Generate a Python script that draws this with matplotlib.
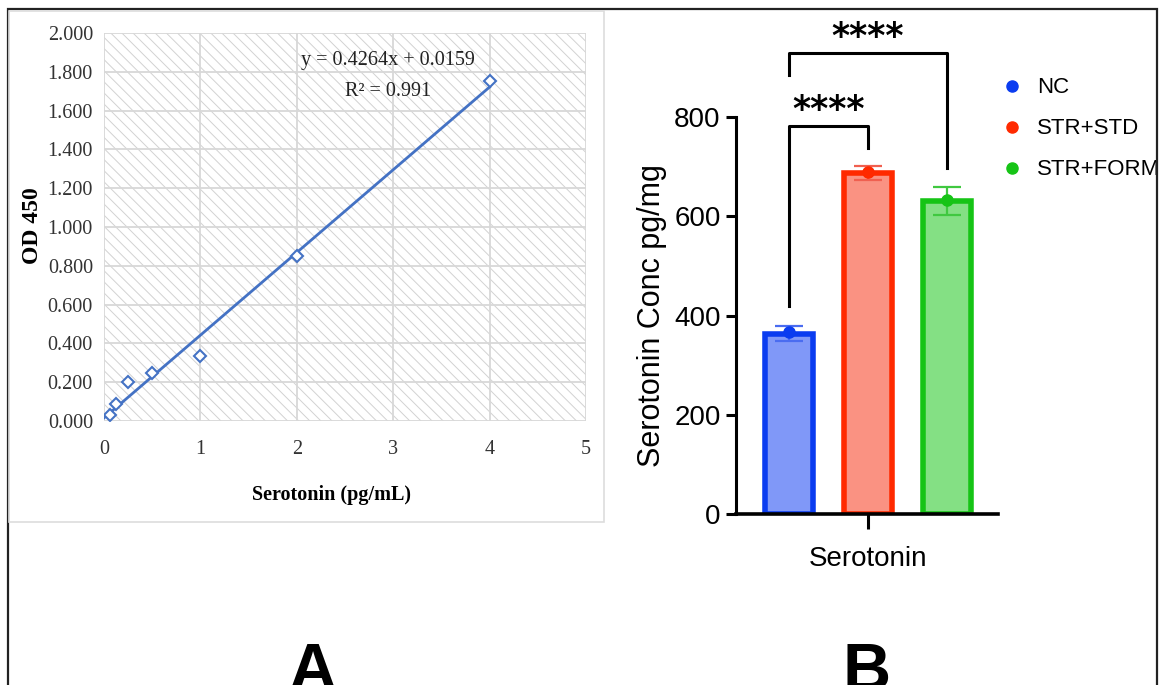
import matplotlib
matplotlib.use('Agg')
import matplotlib.pyplot as plt
from matplotlib.patches import Rectangle
from matplotlib.lines import Line2D
import numpy as np

# panel A: standard curve
std_conc = [0.0625, 0.125, 0.25, 0.5, 1, 2, 4]
std_od = [0.03, 0.088, 0.2, 0.245, 0.335, 0.85, 1.755]
slope = 0.4264
intercept = 0.0159
fit_x = [0, 4]
a_yticks = [0.0, 0.2, 0.4, 0.6, 0.8, 1.0, 1.2, 1.4, 1.6, 1.8, 2.0]
a_xticks = [0, 1, 2, 3, 4, 5]

# panel B: bar chart
groups = ['NC', 'STR+STD', 'STR+FORM']
means = [363, 687, 630]
sem = [15, 14, 28]
edge_cols = ['#0a3cf0', '#ff2a00', '#16c416']
fill_cols = ['#8098f8', '#fa9282', '#84e084']
err_cols = ['#4a6cf0', '#f06050', '#40c840']
b_yticks = [0, 200, 400, 600, 800]

W, H = 1164, 685
fig = plt.figure(figsize=(W / 100, H / 100), dpi=100)
plt.rcParams['hatch.linewidth'] = 0.7

def fx(px):
    return px / W

def fy(py):
    return 1 - py / H

# outer frame and panel A box
fig.patches.append(Rectangle((fx(8), fy(700)), fx(1157) - fx(8), fy(9) - fy(700),
                             transform=fig.transFigure, fill=False, lw=1.6,
                             edgecolor='#222222'))
fig.patches.append(Rectangle((fx(9), fy(522)), fx(604) - fx(9), fy(11) - fy(522),
                             transform=fig.transFigure, fill=False, lw=1.2,
                             edgecolor='#dddddd'))

serif = ['Liberation Serif', 'DejaVu Serif']
sans = ['Liberation Sans', 'DejaVu Sans']

# ---- panel A ----
axA = fig.add_axes([fx(104), fy(421), fx(586) - fx(104), fy(33) - fy(421)])
axA.set_xlim(0, 5)
axA.set_ylim(0, 2.0)
axA.add_patch(Rectangle((0, 0), 1, 1, transform=axA.transAxes, facecolor='white',
                        edgecolor='#d2d2d2', lw=0, hatch='\\\\\\', zorder=0))
for s in axA.spines.values():
    s.set_visible(False)
axA.set_xticks(a_xticks)
axA.set_yticks(a_yticks)
axA.set_yticklabels(['%.3f' % v for v in a_yticks])
axA.tick_params(length=0, labelsize=14.5, labelcolor='#333333', pad=8)
for lab in axA.get_xticklabels() + axA.get_yticklabels():
    lab.set_family(serif)
axA.tick_params(axis='x', pad=14)
axA.grid(True, color='#d8d8d8', lw=1.3, zorder=1)
axA.set_axisbelow(True)
fit_y = [slope * v + intercept for v in fit_x]
axA.plot(fit_x, fit_y, color='#4472c4', lw=2, zorder=3)
axA.plot(std_conc, std_od, linestyle='none', marker='D', markersize=6.5,
         markerfacecolor='white', markeredgecolor='#4472c4', mew=1.5, zorder=4)
axA.text(2.95, 1.86, 'y = %.4fx + %.4f' % (slope, intercept), ha='center', va='center',
         fontsize=14.5, family=serif, color='#222222')
axA.text(2.95, 1.70, 'R² = 0.991', ha='center', va='center',
         fontsize=14.5, family=serif, color='#222222')
fig.text(fx(33), fy(226), 'OD 450', rotation=90, ha='center', va='center',
         fontsize=17, fontweight='bold', family=serif)
fig.text(fx(331), fy(495), 'Serotonin (pg/mL)', ha='center', va='center',
         fontsize=14.5, fontweight='bold', family=serif)

# ---- panel B ----
axB = fig.add_axes([fx(736), fy(514), fx(998) - fx(736), fy(117) - fy(514)])
xpos = np.arange(len(groups))
axB.set_xlim(-0.671, 2.646)
axB.set_ylim(0, 800)
for i in range(len(groups)):
    axB.bar(xpos[i], means[i], width=0.6, color=fill_cols[i], edgecolor=edge_cols[i],
            lw=4, zorder=2)
    axB.errorbar(xpos[i], means[i], yerr=sem[i], fmt='none', ecolor=err_cols[i],
                 elinewidth=1.6, capsize=10, capthick=1.6, zorder=3)
    axB.plot(xpos[i], means[i] + 3, 'o', color=edge_cols[i], markersize=8, zorder=4)
for k in ['top', 'right']:
    axB.spines[k].set_visible(False)
axB.spines['left'].set_linewidth(2.2)
axB.spines['bottom'].set_linewidth(2.6)
axB.set_yticks(b_yticks)
axB.set_xticks([1])
axB.set_xticklabels(['Serotonin'])
axB.tick_params(axis='y', length=7, width=2.2, labelsize=20, pad=4)
axB.tick_params(axis='x', length=11, width=2.2, labelsize=20, pad=12)
for lab in axB.get_xticklabels() + axB.get_yticklabels():
    lab.set_family(sans)
axB.set_ylabel('Serotonin Conc pg/mg', fontsize=22, family=sans)
axB.yaxis.set_label_coords(-0.262, 0.5)

# significance brackets
def bracket(x0, x1, y, y0, y1, label, ty):
    axB.plot([x0, x0, x1, x1], [y0, y, y, y1], color='black', lw=2.2,
             clip_on=False, zorder=5)
    axB.text((x0 + x1) / 2, ty, label, ha='center', va='baseline', fontsize=25,
             fontweight='bold', family=['DejaVu Sans'], clip_on=False)

bracket(xpos[0], xpos[1], 782, 419, 738, '****', 793)
bracket(xpos[0], xpos[2], 929, 885, 697, '****', 942)

handles = [Line2D([], [], linestyle='none', marker='o', markersize=8, color=c)
           for c in edge_cols]
leg = axB.legend(handles, groups, loc='upper left', bbox_to_anchor=(0.925, 1.15),
                 frameon=False, handletextpad=0.55, labelspacing=0.9,
                 handlelength=1.2, prop={'family': sans, 'size': 16})

fig.text(fx(312), fy(704), 'A', ha='center', va='bottom', fontsize=48,
         fontweight='bold', family=sans)
fig.text(fx(867), fy(704), 'B', ha='center', va='bottom', fontsize=48,
         fontweight='bold', family=sans)

fig.savefig('out.png', dpi=100)
